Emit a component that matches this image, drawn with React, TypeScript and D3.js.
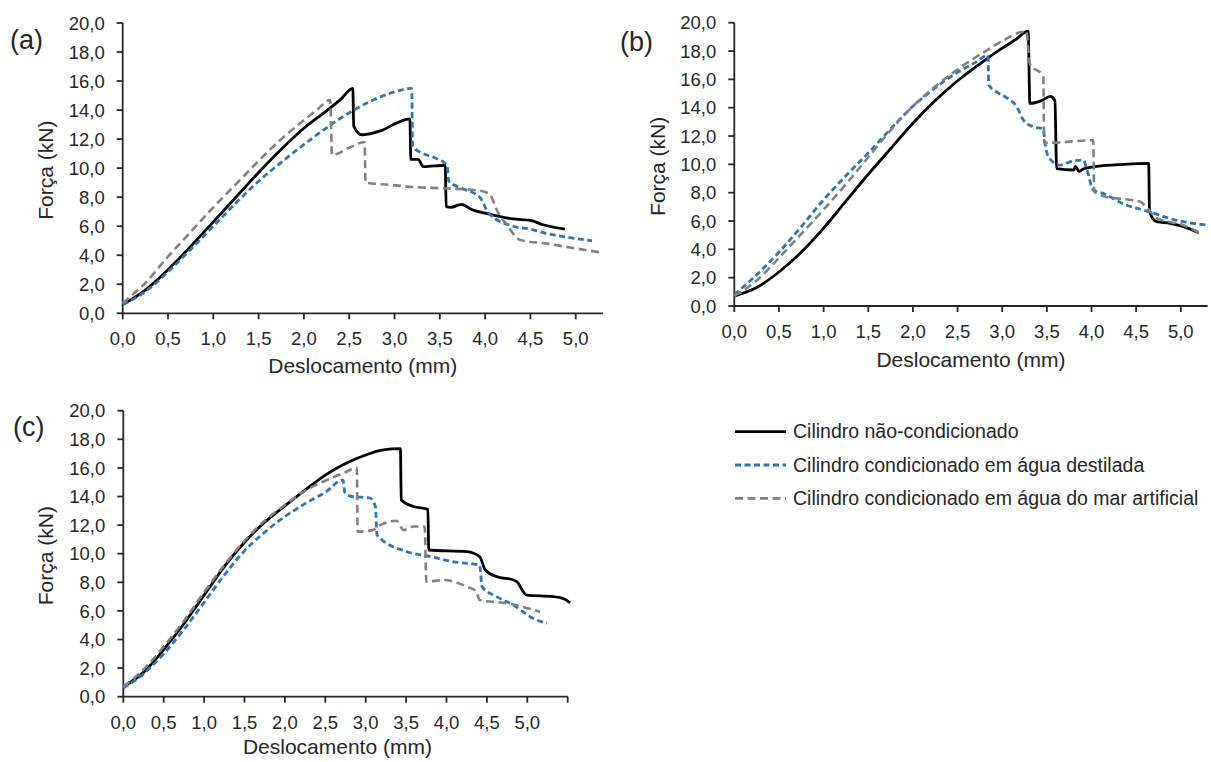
import React from "react";
import * as d3 from "d3";

type Pt = [number, number];

// Deslocamento (mm) x Força (kN) — painel (a)
const aNaoCondicionado: Pt[] = [
  [0, 0.6], [0.25, 1.6], [0.5, 3.0], [0.75, 4.6], [1.0, 6.3], [1.25, 8.0], [1.5, 9.7],
  [1.75, 11.3], [2.0, 12.75], [2.25, 13.95], [2.4, 14.7], [2.54, 15.5], [2.55, 12.9],
  [2.64, 12.3], [2.75, 12.4], [2.86, 12.6], [3.02, 13.1], [3.17, 13.4], [3.18, 10.6],
  [3.26, 10.6], [3.32, 10.1], [3.56, 10.2], [3.57, 7.35], [3.62, 7.3], [3.74, 7.5],
  [3.85, 7.15], [4.0, 6.9], [4.31, 6.5], [4.5, 6.4], [4.64, 6.1], [4.88, 5.8],
];
const aDestilada: Pt[] = [
  [0, 0.6], [0.25, 1.5], [0.5, 2.85], [0.75, 4.4], [1.0, 6.0], [1.25, 7.6], [1.5, 9.1],
  [1.75, 10.4], [2.1, 12.1], [2.3, 13.0], [2.55, 14.0], [2.84, 14.9], [3.0, 15.25],
  [3.19, 15.5], [3.2, 11.5], [3.32, 11.0], [3.45, 10.7], [3.58, 10.2], [3.6, 9.1],
  [3.75, 8.6], [3.94, 8.0], [4.04, 6.9], [4.31, 6.0], [4.5, 5.8], [4.68, 5.5],
  [4.95, 5.2], [5.18, 5.0],
];
const aMarArtificial: Pt[] = [
  [0, 0.7], [0.25, 2.1], [0.5, 3.9], [0.75, 5.6], [1.0, 7.3], [1.25, 8.9], [1.5, 10.5],
  [1.75, 12.0], [2.0, 13.3], [2.15, 14.05], [2.29, 14.7], [2.31, 10.9], [2.5, 11.4],
  [2.67, 11.8], [2.68, 9.0], [2.95, 8.85], [3.21, 8.7], [3.58, 8.6], [3.94, 8.45],
  [4.05, 8.2], [4.13, 7.1], [4.25, 6.0], [4.39, 5.05], [4.68, 4.8], [4.97, 4.5], [5.27, 4.2],
];

// painel (b)
const bNaoCondicionado: Pt[] = [
  [0, 0.7], [0.25, 1.3], [0.5, 2.4], [0.75, 3.8], [1.0, 5.5], [1.25, 7.4], [1.5, 9.3],
  [1.75, 11.1], [2.0, 12.9], [2.25, 14.5], [2.5, 15.9], [2.75, 17.1], [3.0, 18.2],
  [3.15, 18.8], [3.29, 19.4], [3.31, 14.3], [3.44, 14.5], [3.54, 14.8], [3.59, 14.5],
  [3.61, 9.7], [3.8, 9.6], [3.82, 9.85], [3.86, 9.5], [3.9, 9.65], [4.06, 9.85],
  [4.36, 10.0], [4.64, 10.07], [4.65, 6.65], [4.73, 5.95], [4.88, 5.84], [5.03, 5.6],
  [5.2, 5.17],
];
const bDestilada: Pt[] = [
  [0, 0.8], [0.25, 2.2], [0.5, 3.8], [0.75, 5.6], [1.0, 7.5], [1.25, 9.2], [1.5, 10.8],
  [1.75, 12.5], [2.0, 14.1], [2.25, 15.4], [2.5, 16.5], [2.7, 17.2], [2.84, 17.7],
  [2.85, 15.6], [2.94, 15.1], [3.05, 14.7], [3.16, 14.1], [3.24, 13.1], [3.35, 12.65],
  [3.46, 12.5], [3.48, 11.5], [3.52, 10.5], [3.65, 9.95], [3.8, 10.25], [3.91, 10.3],
  [3.95, 9.6], [4.02, 8.2], [4.13, 7.95], [4.36, 7.2], [4.65, 6.65], [4.92, 6.1], [5.31, 5.7],
];
const bMarArtificial: Pt[] = [
  [0, 0.7], [0.25, 1.8], [0.5, 3.4], [0.75, 5.1], [1.0, 6.8], [1.25, 8.6], [1.5, 10.5],
  [1.75, 12.4], [2.0, 14.1], [2.25, 15.5], [2.5, 16.7], [2.84, 18.1], [3.0, 18.7],
  [3.27, 19.4], [3.31, 17.1], [3.46, 16.2], [3.47, 11.5], [4.02, 11.7], [4.03, 8.07],
  [4.17, 7.7], [4.28, 7.6], [4.54, 7.37], [4.64, 6.8], [4.73, 6.2], [5.03, 5.7], [5.2, 5.2],
];

// painel (c)
const cNaoCondicionado: Pt[] = [
  [0, 0.7], [0.25, 1.7], [0.5, 3.3], [0.75, 5.1], [1.0, 7.1], [1.25, 9.1], [1.5, 10.8],
  [1.75, 12.2], [2.0, 13.35], [2.25, 14.45], [2.5, 15.5], [2.75, 16.3], [3.0, 16.9],
  [3.2, 17.25], [3.43, 17.35], [3.44, 13.75], [3.59, 13.3], [3.77, 13.1], [3.78, 10.26],
  [4.25, 10.14], [4.41, 9.8], [4.48, 8.86], [4.62, 8.4], [4.83, 8.16], [4.87, 8.04],
  [4.99, 7.1], [5.32, 7.0], [5.45, 6.85], [5.53, 6.57],
];
const cDestilada: Pt[] = [
  [0, 0.6], [0.25, 1.6], [0.5, 3.0], [0.75, 4.7], [1.0, 6.6], [1.25, 8.5], [1.5, 10.2],
  [1.75, 11.5], [2.0, 12.6], [2.25, 13.5], [2.5, 14.3], [2.72, 15.15], [2.74, 14.3],
  [2.83, 14.0], [3.05, 13.9], [3.12, 13.3], [3.14, 11.3], [3.51, 10.14], [3.8, 9.8],
  [4.08, 9.44], [4.41, 9.2], [4.44, 7.7], [4.62, 7.0], [4.83, 6.4], [5.07, 5.48], [5.24, 5.13],
];
const cMarArtificial: Pt[] = [
  [0, 0.7], [0.25, 1.9], [0.5, 3.5], [0.75, 5.3], [1.0, 7.3], [1.25, 9.2], [1.5, 10.9],
  [1.75, 12.3], [2.0, 13.4], [2.25, 14.4], [2.5, 15.1], [2.75, 15.7], [2.89, 16.0],
  [2.9, 11.54], [3.09, 11.66], [3.18, 12.0], [3.38, 12.3], [3.47, 11.66], [3.59, 11.9],
  [3.73, 11.9], [3.75, 8.04], [3.96, 8.16], [4.25, 7.7], [4.37, 7.34], [4.41, 6.76],
  [4.75, 6.53], [5.16, 5.94],
];

const yTicks = [0, 2, 4, 6, 8, 10, 12, 14, 16, 18, 20];
const xTicks = [0, 0.5, 1, 1.5, 2, 2.5, 3, 3.5, 4, 4.5, 5];
const seriesNames = [
  "Cilindro não-condicionado",
  "Cilindro condicionado em água destilada",
  "Cilindro condicionado em água do mar artificial",
];

const FONT = "'Liberation Sans', Arial, sans-serif";
const TEXT = "#262626";
const AXIS = "#262626";

const styles = [
  { stroke: "#000000", width: 2.8, dash: undefined as string | undefined },
  { stroke: "#2E75B6", width: 2.8, dash: "6 3.5" },
  { stroke: "#808080", width: 2.6, dash: "8 4.5" },
];

const fmt = (v: number) => d3.format(".1f")(v).replace(".", ",");

type PanelProps = {
  tag: string;
  xRange: [number, number];
  yRange: [number, number];
  xMax: number;
  extraXTicks?: number[];
  series: Pt[][];
  tagPos: [number, number];
  yTitleX: number;
  xTitleY: number;
};

function Panel({ tag, xRange, yRange, xMax, extraXTicks = [], series, tagPos, yTitleX, xTitleY }: PanelProps) {
  const x = d3.scaleLinear().domain([0, xMax]).range(xRange);
  const y = d3.scaleLinear().domain([0, 20]).range(yRange);
  const line = d3
    .line<Pt>()
    .x((d) => x(d[0]))
    .y((d) => y(d[1]))
    .curve(d3.curveMonotoneX);
  const x0 = xRange[0];
  const y0 = yRange[0];
  return (
    <g>
      <text x={tagPos[0]} y={tagPos[1]} fontFamily={FONT} fontSize={27} fill={TEXT}>
        {tag}
      </text>
      {/* eixo y */}
      <line x1={x0} x2={x0} y1={y0} y2={yRange[1]} stroke={AXIS} strokeWidth={1.8} />
      {yTicks.map((t) => (
        <g key={"y" + t}>
          <line x1={x0 - 6} x2={x0} y1={y(t)} y2={y(t)} stroke={AXIS} strokeWidth={1.8} />
          <text
            x={x0 - 18}
            y={y(t)}
            dy="0.36em"
            textAnchor="end"
            fontFamily={FONT}
            fontSize={18.5}
            fill={TEXT}
          >
            {fmt(t)}
          </text>
        </g>
      ))}
      {/* eixo x */}
      <line x1={x0} x2={xRange[1]} y1={y0} y2={y0} stroke={AXIS} strokeWidth={1.8} />
      {[...xTicks, ...extraXTicks].map((t) => (
        <line key={"xt" + t} x1={x(t)} x2={x(t)} y1={y0} y2={y0 + 6} stroke={AXIS} strokeWidth={1.8} />
      ))}
      {xTicks.map((t) => (
        <text
          key={"xl" + t}
          x={x(t)}
          y={y0 + 32}
          textAnchor="middle"
          fontFamily={FONT}
          fontSize={18.5}
          fill={TEXT}
        >
          {fmt(t)}
        </text>
      ))}
      <text
        x={(x0 + x(5.3)) / 2}
        y={xTitleY}
        textAnchor="middle"
        fontFamily={FONT}
        fontSize={21}
        fill={TEXT}
      >
        Deslocamento (mm)
      </text>
      <text
        transform={`translate(${yTitleX},${(y0 + yRange[1]) / 2 + 2}) rotate(-90)`}
        textAnchor="middle"
        fontFamily={FONT}
        fontSize={21}
        fill={TEXT}
      >
        Força (kN)
      </text>
      {series.map((s, i) => (
        <path
          key={i}
          d={line(s) ?? ""}
          fill="none"
          stroke={styles[i].stroke}
          strokeWidth={styles[i].width}
          strokeDasharray={styles[i].dash}
          strokeLinejoin="miter"
        />
      ))}
    </g>
  );
}

export default function App() {
  const legendY = d3.scaleBand<number>().domain([0, 1, 2]).range([415, 515]);
  return (
    <svg
      width={1211}
      height={762}
      style={{ position: "absolute", left: 0, top: 0, background: "#fff" }}
    >
      <rect width={1211} height={762} fill="#fff" />
      <Panel
        tag="(a)"
        xRange={[122.7, 602.9]}
        yRange={[313.3, 23]}
        xMax={5.3}
        series={[aNaoCondicionado, aDestilada, aMarArtificial]}
        tagPos={[10, 49]}
        yTitleX={53}
        xTitleY={373}
      />
      <Panel
        tag="(b)"
        xRange={[734.3, 1207.6]}
        yRange={[306, 22.7]}
        xMax={5.3}
        series={[bNaoCondicionado, bDestilada, bMarArtificial]}
        tagPos={[620, 51]}
        yTitleX={665}
        xTitleY={367}
      />
      <Panel
        tag="(c)"
        xRange={[123.3, 567.7]}
        yRange={[696.7, 410.7]}
        xMax={5.5}
        extraXTicks={[5.5]}
        series={[cNaoCondicionado, cDestilada, cMarArtificial]}
        tagPos={[13, 436]}
        yTitleX={53}
        xTitleY={754}
      />
      {seriesNames.map((name, i) => {
        const cy = (legendY(i) ?? 0) + legendY.bandwidth() / 2;
        return (
          <g key={name}>
            <line
              x1={735}
              x2={786}
              y1={cy}
              y2={cy}
              stroke={styles[i].stroke}
              strokeWidth={styles[i].width}
              strokeDasharray={styles[i].dash}
            />
            <text x={793} y={cy} dy="0.35em" fontFamily={FONT} fontSize={19.5} fill={TEXT}>
              {name}
            </text>
          </g>
        );
      })}
    </svg>
  );
}
